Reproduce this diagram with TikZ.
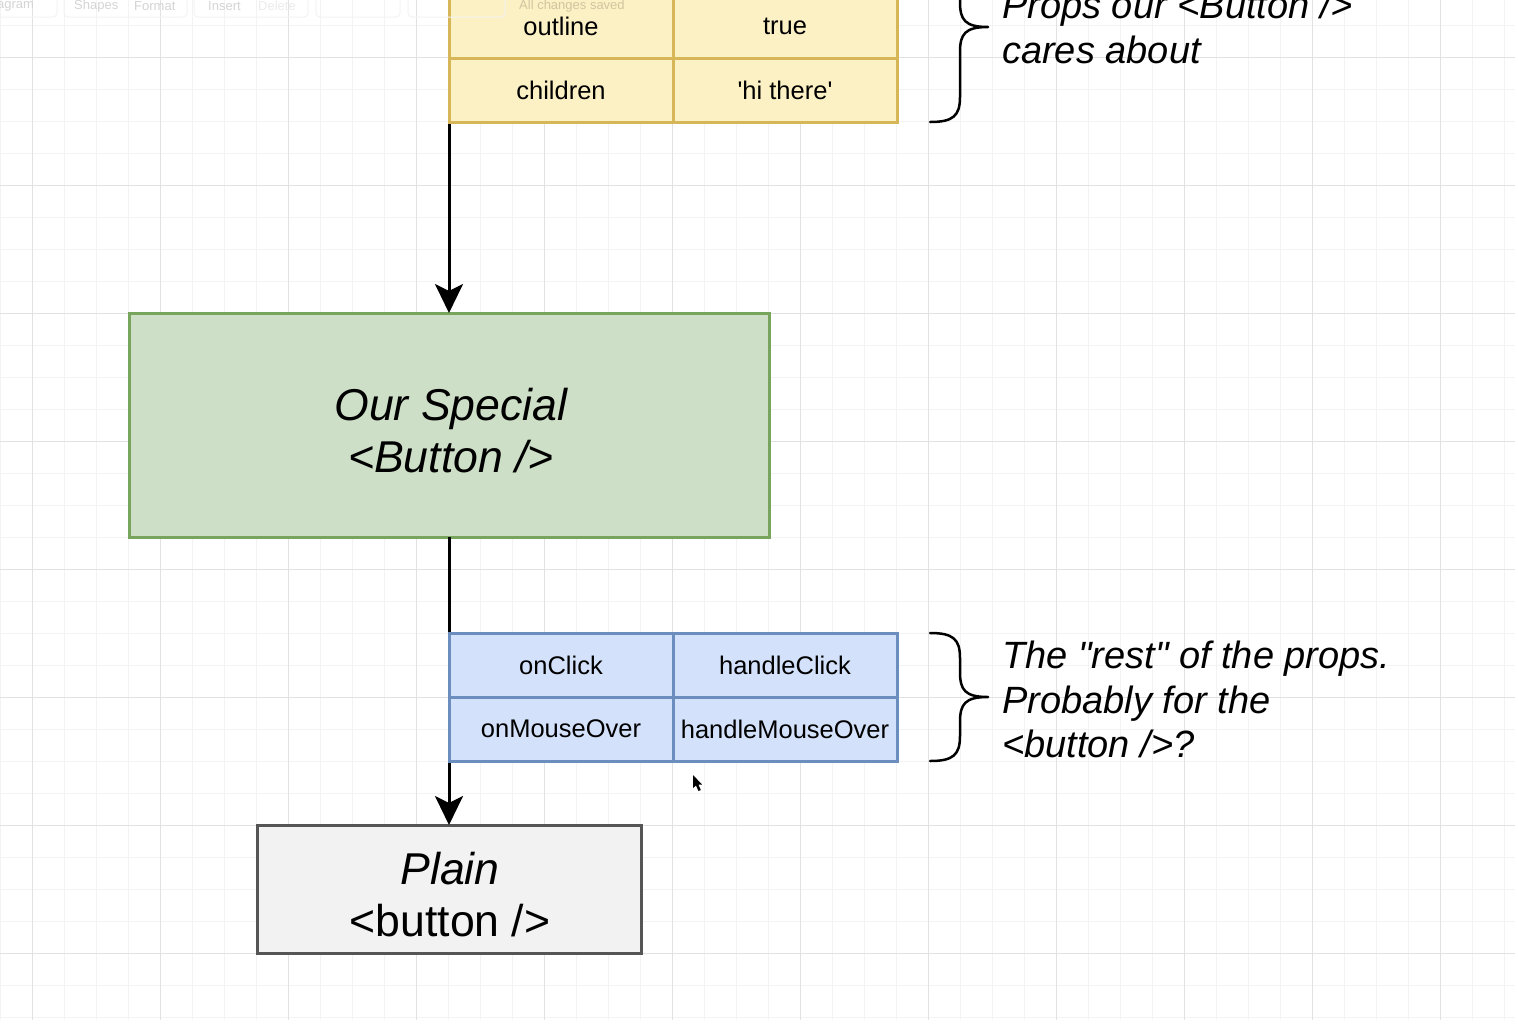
\documentclass[tikz,border=0pt]{standalone}
\usepackage{fontspec}
\setmainfont{Liberation Sans}[Ligatures=TeXOff]
\usetikzlibrary{arrows.meta}
\definecolor{ylfill}{HTML}{FCF1C4}
\definecolor{ylline}{HTML}{D6B656}
\definecolor{grfill}{HTML}{CDDFC6}
\definecolor{grline}{HTML}{76A55B}
\definecolor{blfill}{HTML}{D4E1FA}
\definecolor{blline}{HTML}{6C8EBF}
\definecolor{gyfill}{HTML}{F2F2F2}
\definecolor{gyline}{HTML}{555555}
\definecolor{gridmaj}{HTML}{E2E2E2}
\definecolor{gridmin}{HTML}{F3F3F3}
\definecolor{uitext}{HTML}{D4D4D4}
\tikzset{
  cellbox/.style={draw, line width=3pt, minimum width=224pt, minimum height=64pt, inner sep=0pt, outer sep=0pt, font=\fontsize{25.5}{30}\selectfont},
  ycell/.style={cellbox, fill=ylfill, draw=ylline},
  bcell/.style={cellbox, fill=blfill, draw=blline},
  flowarrow/.style={line width=3pt, -{Stealth[length=29pt, width=28pt, inset=7pt]}},
  bracestyle/.style={line width=2.5pt, line cap=round, line join=round},
  notetext/.style={anchor=base west, inner sep=0pt, font=\fontsize{38}{44}\selectfont\itshape},
  uilabel/.style={anchor=west, inner sep=0pt, text=uitext, font=\fontsize{13}{15}\selectfont},
  boxlabel/.style={inner sep=0pt, align=center, font=\fontsize{44.6}{52}\selectfont},
}
\begin{document}
\begin{tikzpicture}[x=1pt, y=-1pt]
\useasboundingbox (0,0) rectangle (1518,1026);
\clip (0,0) rectangle (1518,1026);
\fill[white] (0,0) rectangle (1518,1026);
% grid
\foreach \gx in {0,32,...,1504} {\draw[gridmin, line width=1pt] (\gx,0) -- (\gx,1020);}
\foreach \gy in {25,57,...,1017} {\draw[gridmin, line width=1pt] (0,\gy) -- (1515,\gy);}
\foreach \gx in {32,160,...,1440} {\draw[gridmaj, line width=1pt] (\gx,0) -- (\gx,1020);}
\foreach \gy in {57,185,...,953} {\draw[gridmaj, line width=1pt] (0,\gy) -- (1515,\gy);}

% boxes and arrows
\coordinate (ybot) at (449,122);
\node[draw, line width=3pt, fill=grfill, draw=grline, minimum width=640pt, minimum height=224pt, inner sep=0pt, outer sep=0pt] (green) at (449,425) {};
\node[boxlabel] (greentext) at (451,431) {\itshape Our Special\\\itshape <Button />};
\node[draw, line width=3pt, fill=gyfill, draw=gyline, minimum width=384pt, minimum height=128pt, inner sep=0pt, outer sep=0pt] (plain) at (449,889) {};
\node[boxlabel] (plaintext) at (450,895) {\itshape Plain\\<button />};
\draw[flowarrow] (ybot) -- (green.north);
\draw[flowarrow] (green.south) -- (plain.north);

% yellow table
\node[ycell] (y11) at (561,26) {outline};
\node[ycell] (y12) at (785,26) {true};
\node[ycell] (y21) at (561,90) {children};
\node[ycell] (y22) at (785,90) {'hi there'};

% blue table
\node[bcell] (b11) at (561,665) {onClick};
\node[bcell] (b12) at (785,665) {handleClick};
\node[bcell] (b21) at (561,729) {onMouseOver};
\node[bcell] (b22) at (785,729) {handleMouseOver};

% faint toolbar (overlaid)
\draw[gridmin, line width=1pt, rounded corners=4pt] (-10,-10) rectangle (57,17);
\draw[gridmin, line width=1pt, rounded corners=4pt] (64,-10) rectangle (187,17);
\draw[gridmin, line width=1pt, rounded corners=4pt] (194,-10) rectangle (308,17);
\draw[gridmin, line width=1pt, rounded corners=4pt] (316,-10) rectangle (400,17);
\draw[gridmin, line width=1pt, rounded corners=4pt] (408,-10) rectangle (505,17);
\node[uilabel] (ui1) at (-3,6) {agram};
\node[uilabel] (ui2) at (74,6) {Shapes};
\node[uilabel] (ui3) at (134,6) {Format};
\node[uilabel] (ui4) at (208,6) {Insert};
\node[uilabel, text=uitext!45] (ui5) at (258,6) {Delete};
\node[uilabel, text=black!18!ylfill] (ui6) at (519,6) {All changes saved};

% braces
\draw[bracestyle] (930,-68) .. controls (953,-68) and (960,-62) .. (960,-43) -- (960,2)
  .. controls (960,20) and (965,27) .. (988,27)
  .. controls (965,27) and (960,34) .. (960,52) -- (960,97)
  .. controls (960,116) and (953,122) .. (930,122);
\draw[bracestyle] (930,633) .. controls (953,633) and (960,639) .. (960,658) -- (960,672)
  .. controls (960,690) and (965,697) .. (988,697)
  .. controls (965,697) and (960,704) .. (960,722) -- (960,736)
  .. controls (960,755) and (953,761) .. (930,761);

% notes
\node[notetext] (n1) at (1002,18) {Props our <Button />};
\node[notetext] (n2) at (1002,63) {cares about};
\node[notetext] (n3) at (1002,668) {The "rest" of the props.};
\node[notetext] (n4) at (1002,713) {Probably for the};
\node[notetext] (n5) at (1002,757) {<button />?};

% mouse cursor
\fill[black] (693,775) -- (693,788) -- (696,785.5) -- (698.5,791) -- (700.8,790) -- (698.3,784.5) -- (702,784.5) -- cycle;
\end{tikzpicture}
\end{document}
